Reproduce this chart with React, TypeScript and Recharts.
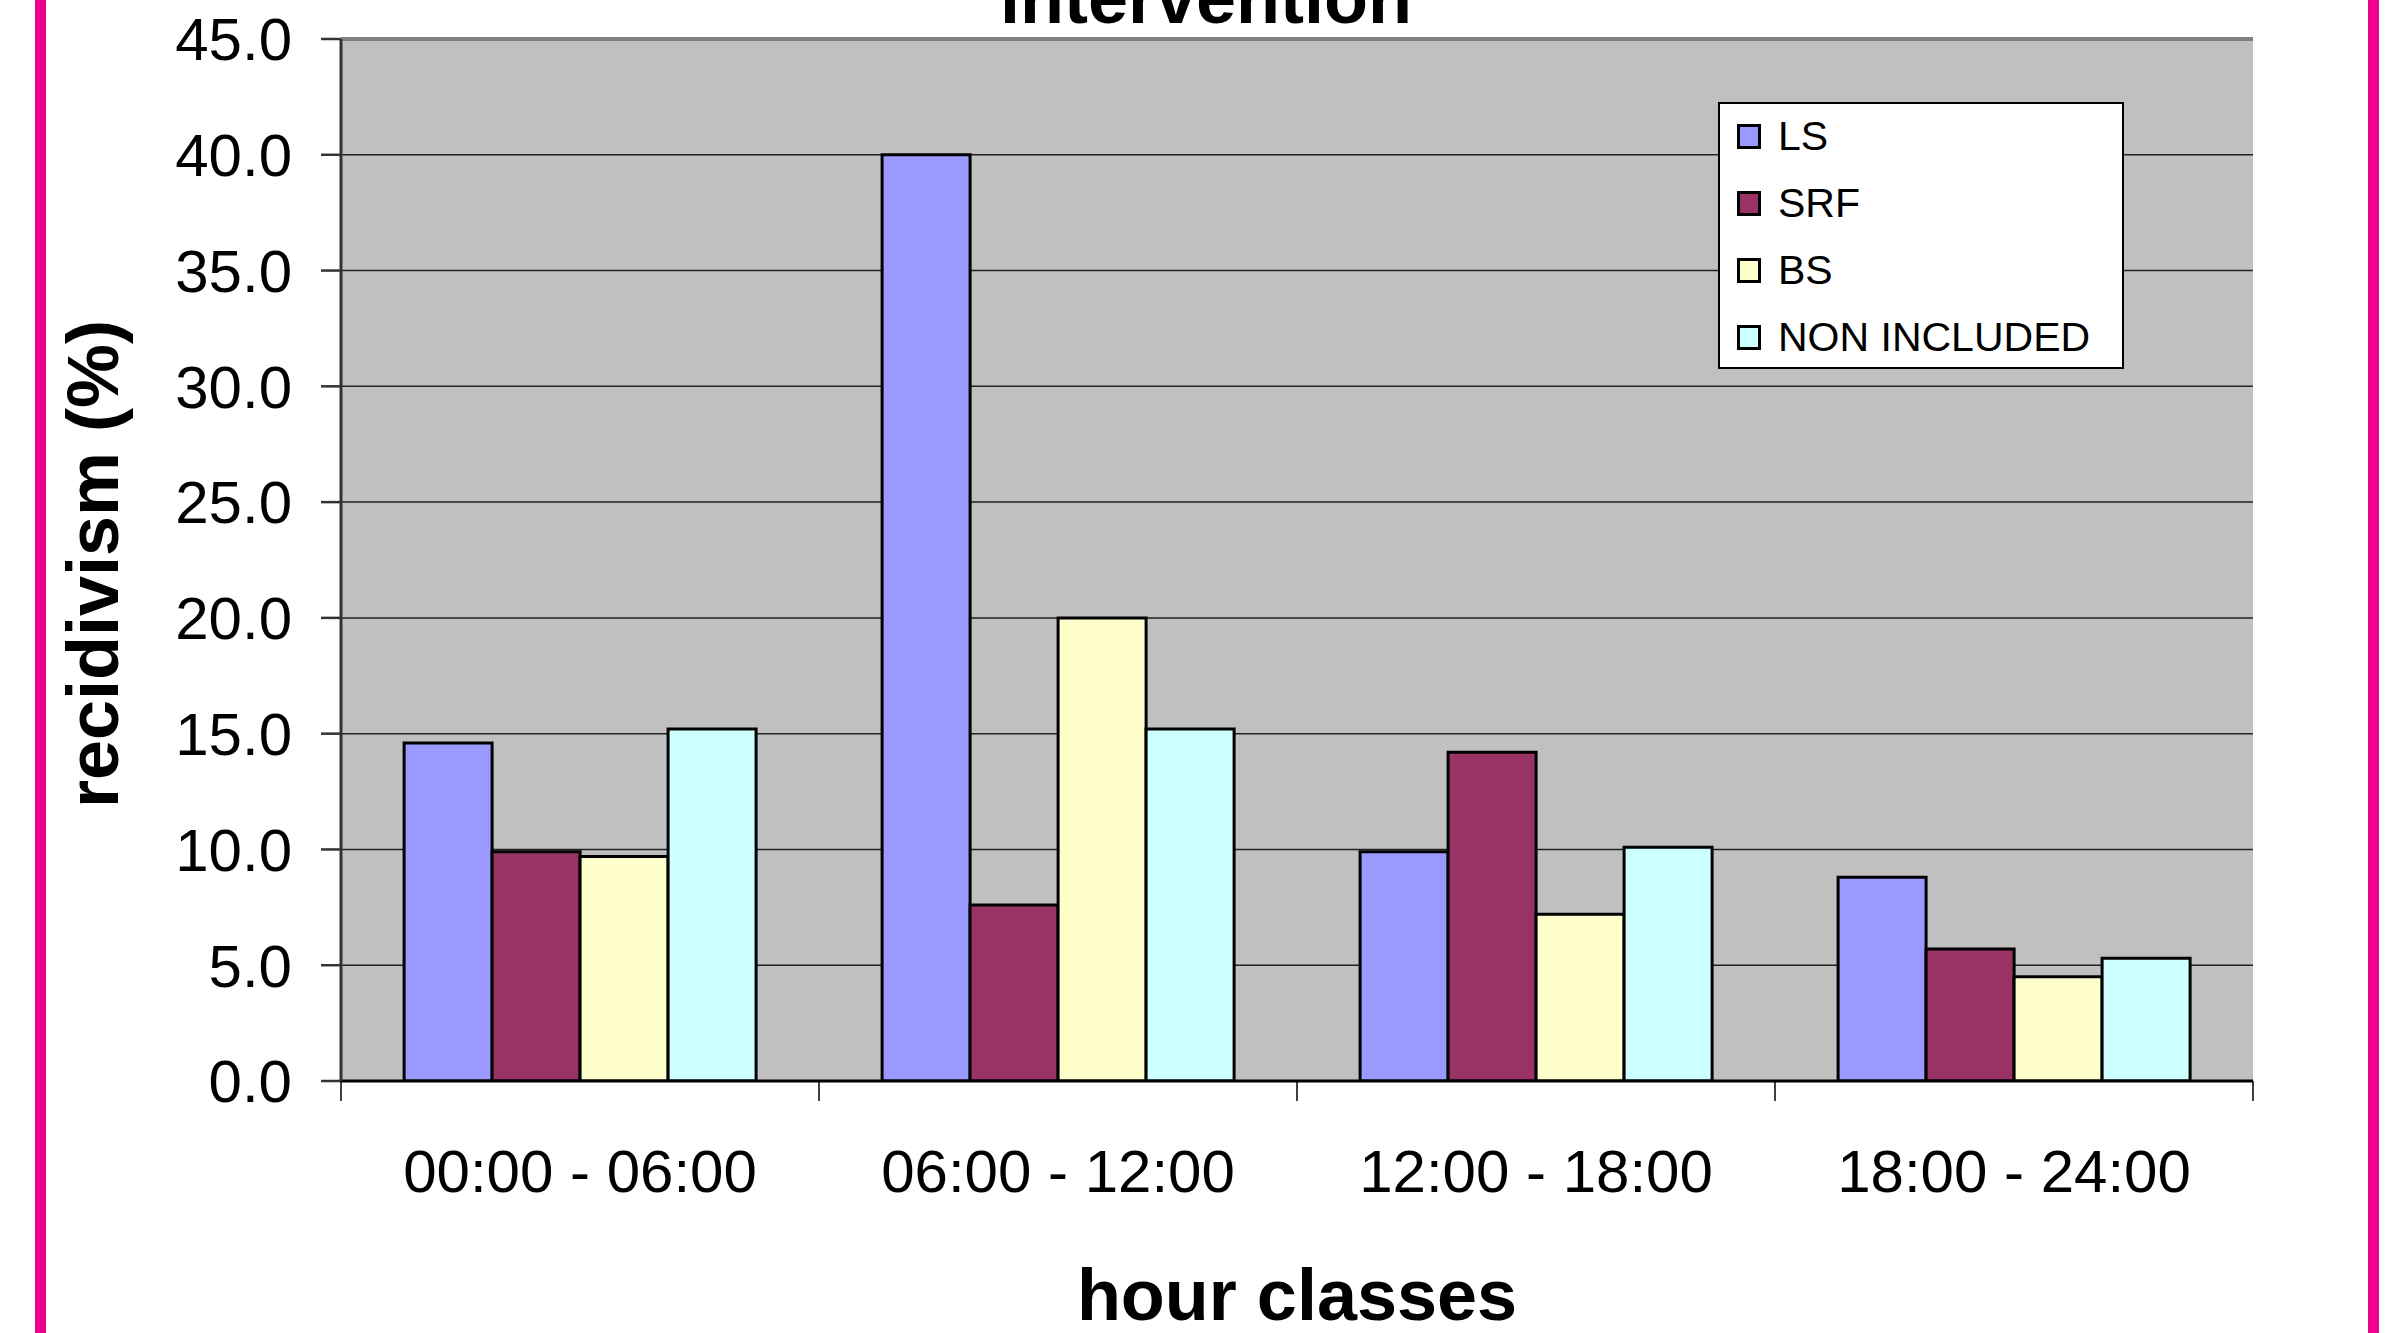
import React from 'react';
import { BarChart, Bar, XAxis, YAxis, CartesianGrid, Legend, ReferenceLine, Label } from 'recharts';

const FONT = '"Liberation Sans", Arial, Helvetica, sans-serif';

const categories = ['00:00 - 06:00', '06:00 - 12:00', '12:00 - 18:00', '18:00 - 24:00'];
const lsValues = [14.6, 40.0, 9.9, 8.8];
const srfValues = [9.9, 7.6, 14.2, 5.7];
const bsValues = [9.7, 20.0, 7.2, 4.5];
const nonIncludedValues = [15.2, 15.2, 10.1, 5.3];

const seriesNames = ['LS', 'SRF', 'BS', 'NON INCLUDED'];
const seriesColors = ['#9999FF', '#993366', '#FFFFCC', '#CCFFFF'];
const yTicks = [0, 5, 10, 15, 20, 25, 30, 35, 40, 45];

const titleText = 'intervention';
const xTitle = 'hour classes';
const yTitle = 'recidivism (%)';

const X_TICK_SIZE = 20;
const X_TICK_MARGIN = 48;

const data = categories.map((c, i) => ({
  category: c,
  LS: lsValues[i],
  SRF: srfValues[i],
  BS: bsValues[i],
  'NON INCLUDED': nonIncludedValues[i],
}));

const LegendBox = () => (
  <div
    style={{
      width: 406,
      height: 267,
      boxSizing: 'border-box',
      background: '#fff',
      border: '2px solid #000',
      position: 'relative',
      fontFamily: FONT,
    }}
  >
    {seriesNames.map((n, i) => (
      <div
        key={n}
        style={{
          position: 'absolute',
          left: 17,
          top: 12 + i * 67,
          height: 40,
          display: 'flex',
          alignItems: 'center',
          whiteSpace: 'nowrap',
        }}
      >
        <div
          style={{
            width: 24,
            height: 25,
            boxSizing: 'border-box',
            background: seriesColors[i],
            border: '3px solid #000',
          }}
        />
        <span style={{ marginLeft: 17, fontSize: 41, lineHeight: '40px', color: '#000' }}>{n}</span>
      </div>
    ))}
  </div>
);

const YLabel = (props: any) => {
  const vb = props && props.viewBox ? props.viewBox : { x: 41, y: 39, width: 300, height: 1043 };
  const cx = vb.x + 77;
  const cy = vb.y + vb.height / 2 + 4;
  return (
    <text
      transform={`translate(${cx},${cy}) rotate(-90)`}
      textAnchor="middle"
      fontSize={72}
      fontWeight="bold"
      fontFamily={FONT}
      fill="#000"
    >
      {yTitle}
    </text>
  );
};

const XTick = (props: any) => {
  const { x, y, payload, index } = props;
  const count = props.visibleTicksCount || categories.length;
  const w = typeof props.width === 'number' ? props.width : 1912;
  const half = w / count / 2;
  const axisY = y - X_TICK_SIZE - X_TICK_MARGIN;
  return (
    <g>
      <line x1={x - half} x2={x - half} y1={axisY} y2={axisY + X_TICK_SIZE} stroke="#000" strokeWidth={1.5} />
      {index === count - 1 && (
        <line x1={x + half} x2={x + half} y1={axisY} y2={axisY + X_TICK_SIZE} stroke="#000" strokeWidth={1.5} />
      )}
      <text x={x} y={y} dy="0.71em" textAnchor="middle" fontSize={60} fontFamily={FONT} fill="#000">
        {payload.value}
      </text>
    </g>
  );
};

export default function App() {
  return (
    <div style={{ position: 'absolute', left: 0, top: 0, width: 2385, height: 1333, background: '#fff', overflow: 'hidden' }}>
      <BarChart
        width={2385}
        height={1333}
        data={data}
        margin={{ top: 39, right: 132, bottom: 0, left: 41 }}
        barCategoryGap="13.2%"
        barGap={0}
      >
        <CartesianGrid vertical={false} horizontal stroke="#222" strokeWidth={1.5} fill="#C0C0C0" />
        <XAxis
          dataKey="category"
          height={252}
          interval={0}
          tickLine={false}
          axisLine={{ stroke: '#000', strokeWidth: 3 }}
          tickSize={X_TICK_SIZE}
          tickMargin={X_TICK_MARGIN}
          tick={XTick}
        >
          <Label
            value={xTitle}
            position="insideBottom"
            offset={13}
            style={{ fontSize: 72, fontWeight: 'bold', fill: '#000', fontFamily: FONT }}
          />
        </XAxis>
        <YAxis
          width={300}
          domain={[0, 45]}
          ticks={yTicks}
          allowDataOverflow
          interval={0}
          tickFormatter={(v: number) => v.toFixed(1)}
          axisLine={{ stroke: '#333', strokeWidth: 3 }}
          tickLine={{ stroke: '#333', strokeWidth: 2.5 }}
          tickSize={20}
          tickMargin={29}
          tick={{ fill: '#000', fontSize: 60, fontFamily: FONT }}
        >
          <Label content={YLabel} />
        </YAxis>
        <YAxis
          yAxisId="r"
          orientation="right"
          width={0}
          domain={[0, 45]}
          allowDataOverflow
          tick={false}
          tickLine={false}
          axisLine={{ stroke: '#808080', strokeWidth: 4 }}
        />
        <ReferenceLine y={45} stroke="#808080" strokeWidth={4} />
        {seriesNames.map((n, i) => (
          <Bar
            key={n}
            dataKey={n}
            fill={seriesColors[i]}
            stroke="#000"
            strokeWidth={3}
            isAnimationActive={false}
          />
        ))}
        <Legend
          layout="vertical"
          align="center"
          verticalAlign="middle"
          content={LegendBox}
          wrapperStyle={{ left: 1718, top: 102, width: 406, height: 267 }}
        />
      </BarChart>
      <svg
        width={2385}
        height={1333}
        style={{ position: 'absolute', left: 0, top: 0, pointerEvents: 'none' }}
      >
        <text x={1206} y={23} textAnchor="middle" fontSize={72} fontWeight="bold" fontFamily={FONT} fill="#000">
          {titleText}
        </text>
        <rect x={35} y={0} width={11} height={1333} fill="#EC008C" />
        <rect x={2368} y={0} width={11} height={1333} fill="#EC008C" />
      </svg>
    </div>
  );
}
